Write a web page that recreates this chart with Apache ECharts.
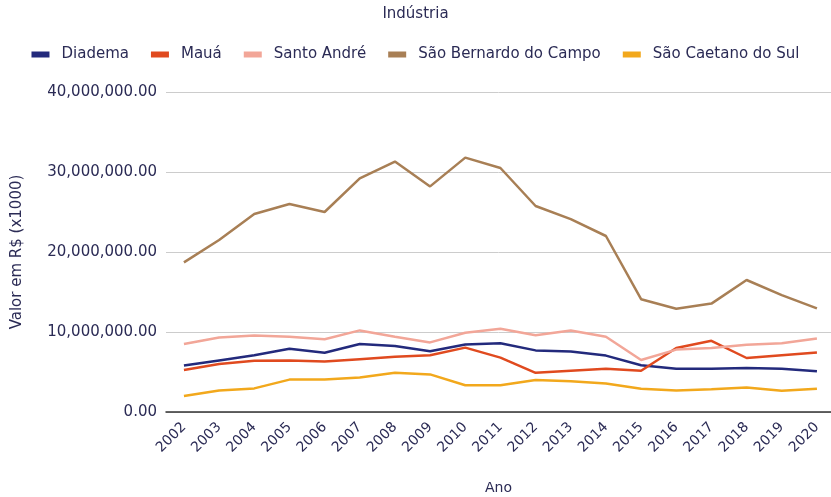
<!DOCTYPE html>
<html>
<head>
<meta charset="utf-8">
<script src="https://cdn.jsdelivr.net/npm/echarts@6/dist/echarts.min.js"></script>
<style>
  html, body { margin: 0; padding: 0; background: #fff; }
  #chart { width: 831px; height: 497px; }
</style>
</head>
<body>
<div id="chart"></div>
<script>
// anos
const anos = [2002, 2003, 2004, 2005, 2006, 2007, 2008, 2009, 2010, 2011,
              2012, 2013, 2014, 2015, 2016, 2017, 2018, 2019, 2020]
// valores em milhões (R$ x1000)
const diadema = [5.8, 6.45, 7.1, 7.9, 7.4, 8.5, 8.25, 7.6, 8.45, 8.6, 7.7, 7.55, 7.05, 5.85, 5.4, 5.4, 5.5, 5.4, 5.1]
const maua = [5.25, 6.0, 6.4, 6.45, 6.3, 6.6, 6.9, 7.1, 8.05, 6.8, 4.9, 5.15, 5.4, 5.15, 8.0, 8.9, 6.75, 7.1, 7.45]
const santoAndre = [8.5, 9.3, 9.55, 9.4, 9.1, 10.2, 9.4, 8.7, 9.9, 10.4, 9.6, 10.2, 9.4, 6.5, 7.8, 8.0, 8.4, 8.6, 9.2]
const saoBernardo = [18.7, 21.5, 24.75, 26.0, 25.0, 29.2, 31.3, 28.2, 31.8, 30.5, 25.75, 24.1, 22.0, 14.1, 12.9, 13.55, 16.5, 14.6, 12.95]
const saoCaetano = [2.0, 2.7, 2.95, 4.05, 4.05, 4.3, 4.9, 4.7, 3.35, 3.35, 4.0, 3.85, 3.55, 2.9, 2.7, 2.85, 3.05, 2.65, 2.9]

const nomes = ['Diadema', 'Mauá', 'Santo André', 'São Bernardo do Campo', 'São Caetano do Sul']
const cores = ['#232a7c', '#e04a1f', '#f2a698', '#a87f55', '#f2a81c']
const valores = [diadema, maua, santoAndre, saoBernardo, saoCaetano]

const textColor = '#2b2b55'
const fonte = 'DejaVu Sans, Verdana, sans-serif'

let myecharts = echarts.init(document.getElementById('chart'))

let series = []
for (let i = 0; i < nomes.length; i++) {
  series.push({
    name: nomes[i],
    type: 'line',
    showSymbol: false,
    data: anos.map((a, j) => [a, valores[i][j] * 1000000]),
    lineStyle: { width: 2.5, color: cores[i] },
    itemStyle: { color: cores[i] }
  })
}

let option = {
  animation: false,
  textStyle: { fontFamily: fonte, color: textColor },
  title: {
    text: 'Indústria',
    left: 'center',
    top: 2,
    textStyle: { fontFamily: fonte, fontSize: 15, fontWeight: 'normal', color: textColor }
  },
  legend: {
    left: 'center',
    top: 42,
    itemWidth: 18,
    itemHeight: 6,
    itemGap: 22,
    icon: 'rect',
    textStyle: { fontFamily: fonte, fontSize: 15, color: textColor, padding: [0, 0, 0, 7] },
    data: nomes
  },
  grid: {
    left: 166,
    right: 0,
    top: 92,
    bottom: 85,
    outerBoundsMode: 'none'
  },
  xAxis: {
    type: 'value',
    min: 2001.49,
    max: 2020.4,
    name: 'Ano',
    nameLocation: 'middle',
    nameGap: 69,
    nameTextStyle: { fontFamily: fonte, fontSize: 14, color: textColor },
    axisLine: { show: true, onZero: true, lineStyle: { color: '#333', width: 1.5 } },
    axisTick: { show: false, customValues: anos },
    splitLine: { show: false },
    axisLabel: {
      customValues: anos,
      rotate: 45,
      margin: 13,
      fontSize: 14,
      color: textColor,
      fontFamily: fonte,
      formatter: v => String(v)
    }
  },
  yAxis: {
    type: 'value',
    min: 0,
    max: 40000000,
    interval: 10000000,
    name: 'Valor em R$ (x1000)',
    nameLocation: 'middle',
    nameGap: 141,
    nameTextStyle: { fontFamily: fonte, fontSize: 15, color: textColor },
    axisLine: { show: false },
    axisTick: { show: false },
    splitLine: { lineStyle: { color: '#cccccc', width: 1 } },
    axisLabel: {
      fontSize: 15,
      color: textColor,
      fontFamily: fonte,
      margin: 9,
      formatter: v => v.toLocaleString('en-US', { minimumFractionDigits: 2, maximumFractionDigits: 2 })
    }
  },
  series: series
}

myecharts.setOption(option)
</script>
</body>
</html>
